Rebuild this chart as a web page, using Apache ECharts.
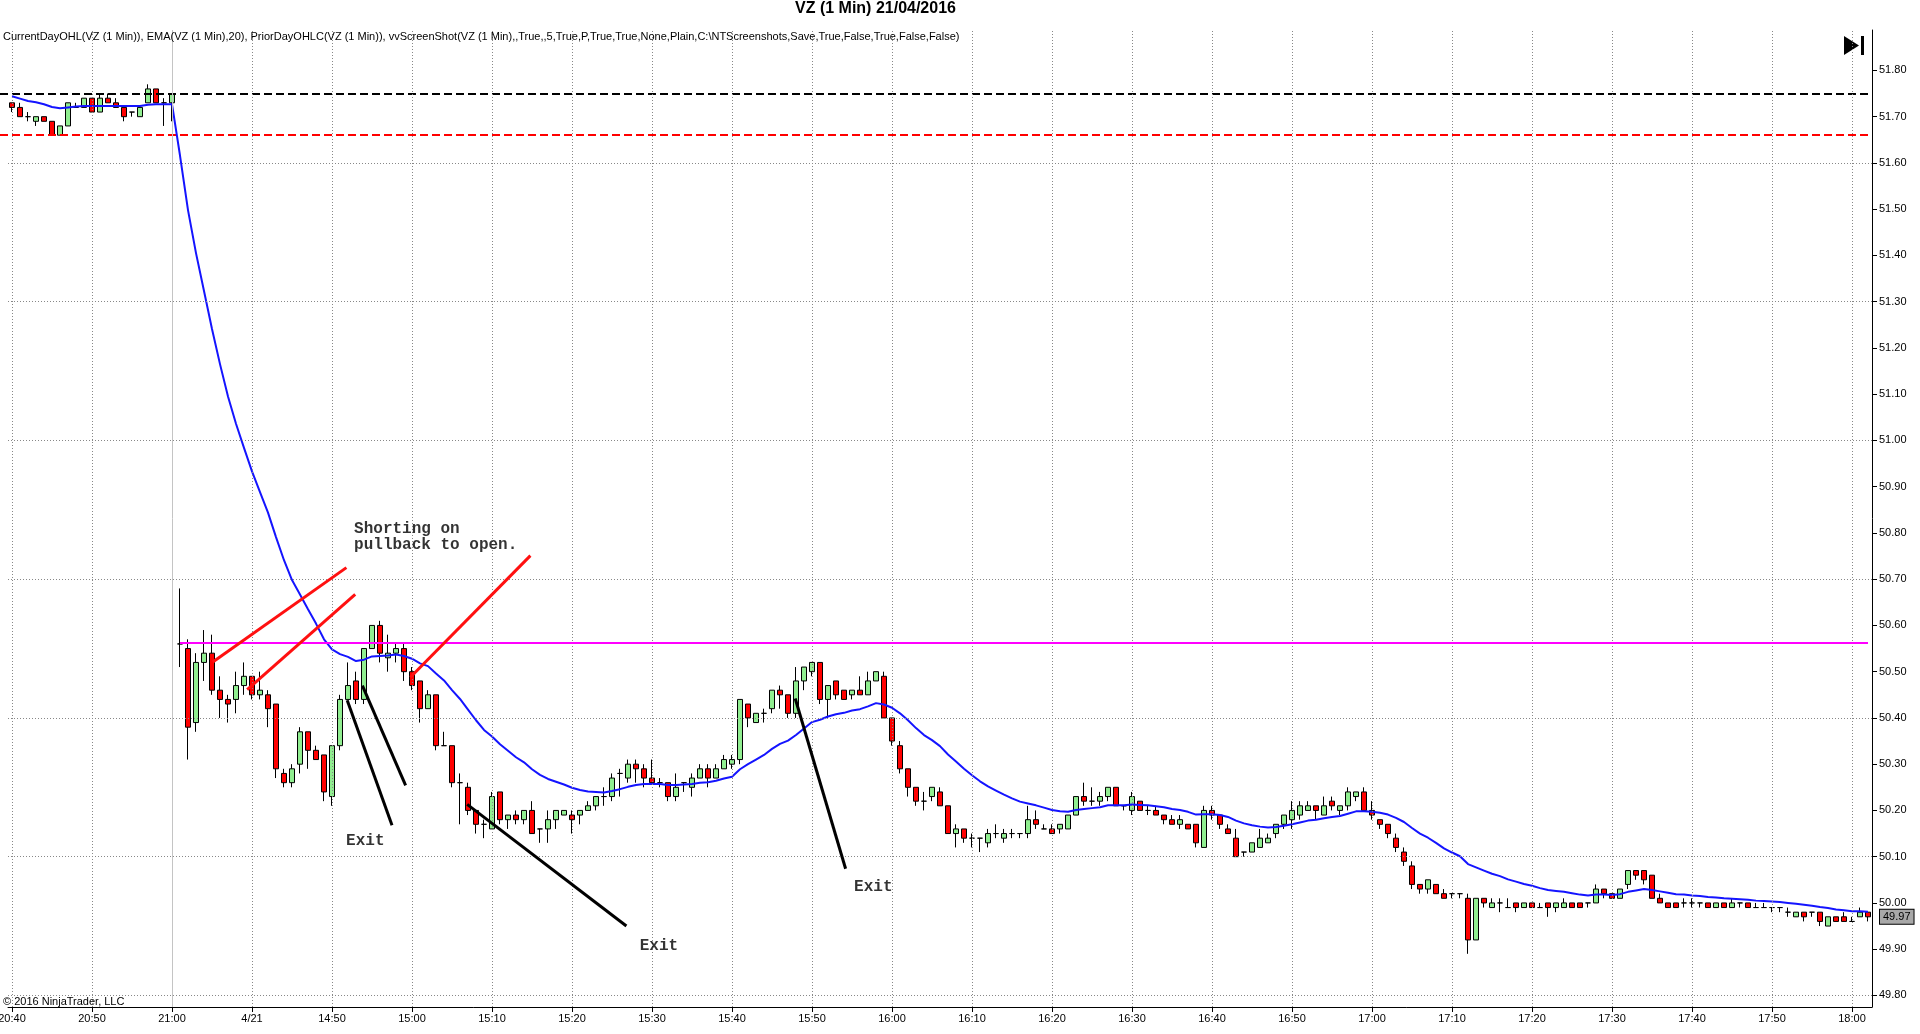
<!DOCTYPE html>
<html>
<head>
<meta charset="utf-8">
<title>VZ (1 Min) 21/04/2016</title>
<script src="https://cdn.jsdelivr.net/npm/echarts@6/dist/echarts.min.js"></script>
<style>
  html, body { margin: 0; padding: 0; background: #fff; }
  #chart { width: 1920px; height: 1034px; }
</style>
</head>
<body>
<div id="chart"></div>
<script>
// two sessions: tail of the prior day, then 21/04 from the open
const sessions = [['20:40', '21:00'], ['14:31', '18:02']];
const dateLabels = { '14:40': '4/21' };

const opens = [
  51.73, 51.72, 51.70, 51.69, 51.70, 51.69, 51.66, 51.68, 51.72, 51.72,
  51.74, 51.71, 51.74, 51.73, 51.72, 51.71, 51.70, 51.73, 51.76, 51.73,
  51.73, 50.56, 50.55, 50.39, 50.52, 50.54, 50.46, 50.44, 50.44, 50.47,
  50.49, 50.45, 50.45, 50.43, 50.28, 50.26, 50.30, 50.37, 50.33, 50.32,
  50.23, 50.34, 50.44, 50.48, 50.44, 50.55, 50.60, 50.53, 50.54, 50.55,
  50.50, 50.48, 50.42, 50.45, 50.34, 50.34, 50.26, 50.25, 50.20, 50.17,
  50.16, 50.24, 50.18, 50.19, 50.18, 50.20, 50.16, 50.16, 50.18, 50.19,
  50.19, 50.19, 50.20, 50.21, 50.23, 50.23, 50.28, 50.27, 50.30, 50.29,
  50.27, 50.26, 50.26, 50.23, 50.26, 50.25, 50.27, 50.29, 50.27, 50.29,
  50.30, 50.31, 50.43, 50.39, 50.41, 50.42, 50.46, 50.45, 50.41, 50.48,
  50.50, 50.52, 50.44, 50.48, 50.46, 50.45, 50.46, 50.45, 50.48, 50.49,
  50.40, 50.34, 50.29, 50.25, 50.22, 50.23, 50.24, 50.21, 50.15, 50.16,
  50.14, 50.14, 50.13, 50.15, 50.14, 50.15, 50.15, 50.15, 50.18, 50.16,
  50.16, 50.16, 50.16, 50.19, 50.23, 50.22, 50.22, 50.23, 50.25, 50.21,
  50.20, 50.22, 50.20, 50.20, 50.19, 50.18, 50.17, 50.17, 50.17, 50.12,
  50.20, 50.19, 50.16, 50.14, 50.11, 50.11, 50.12, 50.13, 50.15, 50.17,
  50.18, 50.19, 50.20, 50.21, 50.19, 50.22, 50.20, 50.21, 50.23, 50.24,
  50.20, 50.18, 50.17, 50.14, 50.11, 50.08, 50.04, 50.03, 50.04, 50.02,
  50.02, 50.02, 50.01, 49.92, 50.01, 49.99, 50.00, 49.99, 50.00, 49.99,
  50.00, 49.99, 50.00, 49.99, 49.99, 50.00, 50.00, 50.00, 50.00, 50.03,
  50.02, 50.01, 50.04, 50.07, 50.07, 50.06, 50.01, 50.00, 50.00, 50.00,
  50.00, 50.00, 50.00, 49.99, 50.00, 49.99, 50.00, 50.00, 49.99, 49.99,
  49.99, 49.99, 49.98, 49.97, 49.98, 49.98, 49.98, 49.95, 49.97, 49.97,
  49.96, 49.97, 49.98
];

const closes = [
  51.72, 51.70, 51.70, 51.70, 51.69, 51.66, 51.68, 51.73, 51.72, 51.74,
  51.71, 51.74, 51.73, 51.72, 51.70, 51.71, 51.72, 51.76, 51.73, 51.73,
  51.75, 50.56, 50.38, 50.52, 50.54, 50.46, 50.44, 50.43, 50.47, 50.49,
  50.45, 50.46, 50.42, 50.29, 50.26, 50.29, 50.37, 50.33, 50.31, 50.24,
  50.34, 50.44, 50.47, 50.44, 50.55, 50.60, 50.54, 50.54, 50.55, 50.50,
  50.47, 50.42, 50.45, 50.34, 50.34, 50.26, 50.26, 50.20, 50.17, 50.17,
  50.23, 50.18, 50.19, 50.18, 50.20, 50.15, 50.16, 50.18, 50.20, 50.20,
  50.18, 50.20, 50.21, 50.23, 50.23, 50.27, 50.28, 50.30, 50.29, 50.27,
  50.26, 50.26, 50.23, 50.25, 50.26, 50.27, 50.29, 50.27, 50.29, 50.31,
  50.31, 50.44, 50.40, 50.41, 50.41, 50.46, 50.45, 50.41, 50.48, 50.51,
  50.52, 50.44, 50.47, 50.45, 50.44, 50.46, 50.45, 50.48, 50.50, 50.40,
  50.35, 50.29, 50.25, 50.22, 50.22, 50.25, 50.21, 50.15, 50.16, 50.14,
  50.14, 50.14, 50.15, 50.15, 50.15, 50.15, 50.15, 50.18, 50.17, 50.16,
  50.15, 50.17, 50.19, 50.23, 50.22, 50.22, 50.23, 50.25, 50.21, 50.21,
  50.23, 50.20, 50.20, 50.19, 50.18, 50.17, 50.18, 50.16, 50.13, 50.20,
  50.19, 50.17, 50.15, 50.10, 50.11, 50.13, 50.14, 50.14, 50.17, 50.19,
  50.20, 50.21, 50.21, 50.20, 50.21, 50.21, 50.21, 50.24, 50.24, 50.20,
  50.19, 50.17, 50.15, 50.12, 50.09, 50.04, 50.03, 50.05, 50.02, 50.01,
  50.02, 50.02, 49.92, 50.01, 50.00, 50.00, 50.00, 49.99, 49.99, 50.00,
  49.99, 49.99, 49.99, 50.00, 50.00, 49.99, 49.99, 50.00, 50.03, 50.02,
  50.01, 50.03, 50.07, 50.06, 50.05, 50.01, 50.00, 49.99, 49.99, 50.00,
  50.00, 50.00, 49.99, 50.00, 49.99, 50.00, 50.00, 49.99, 49.99, 49.99,
  49.99, 49.99, 49.98, 49.98, 49.97, 49.98, 49.96, 49.97, 49.96, 49.96,
  49.96, 49.98, 49.97
];

const lows = [
  51.71, 51.70, 51.69, 51.68, 51.69, 51.66, 51.66, 51.68, 51.72, 51.72,
  51.71, 51.71, 51.73, 51.72, 51.69, 51.70, 51.70, 51.73, 51.73, 51.68,
  51.69, 50.51, 50.31, 50.37, 50.48, 50.45, 50.40, 50.39, 50.41, 50.45,
  50.44, 50.44, 50.38, 50.27, 50.25, 50.25, 50.28, 50.29, 50.31, 50.22,
  50.21, 50.33, 50.44, 50.43, 50.43, 50.55, 50.52, 50.50, 50.52, 50.48,
  50.46, 50.39, 50.42, 50.33, 50.34, 50.25, 50.17, 50.19, 50.15, 50.14,
  50.16, 50.17, 50.16, 50.17, 50.17, 50.15, 50.13, 50.13, 50.16, 50.19,
  50.15, 50.17, 50.20, 50.20, 50.21, 50.22, 50.23, 50.26, 50.26, 50.25,
  50.26, 50.25, 50.22, 50.22, 50.24, 50.23, 50.27, 50.25, 50.27, 50.29,
  50.29, 50.30, 50.38, 50.39, 50.39, 50.41, 50.42, 50.40, 50.40, 50.46,
  50.49, 50.43, 50.40, 50.44, 50.44, 50.44, 50.45, 50.45, 50.48, 50.40,
  50.34, 50.28, 50.23, 50.21, 50.20, 50.22, 50.21, 50.15, 50.12, 50.13,
  50.12, 50.11, 50.12, 50.14, 50.13, 50.14, 50.14, 50.14, 50.16, 50.16,
  50.15, 50.15, 50.16, 50.19, 50.21, 50.21, 50.21, 50.22, 50.21, 50.20,
  50.19, 50.20, 50.19, 50.19, 50.17, 50.17, 50.16, 50.16, 50.12, 50.12,
  50.18, 50.16, 50.15, 50.10, 50.10, 50.11, 50.12, 50.13, 50.14, 50.16,
  50.16, 50.18, 50.20, 50.18, 50.19, 50.20, 50.19, 50.20, 50.22, 50.20,
  50.18, 50.16, 50.14, 50.11, 50.08, 50.03, 50.02, 50.02, 50.02, 50.01,
  50.01, 50.01, 49.89, 49.92, 49.99, 49.99, 49.98, 49.99, 49.98, 49.99,
  49.99, 49.99, 49.97, 49.98, 49.99, 49.99, 49.99, 49.99, 50.00, 50.01,
  50.01, 50.01, 50.03, 50.05, 50.04, 50.01, 50.00, 49.99, 49.99, 49.99,
  49.99, 49.99, 49.99, 49.99, 49.99, 49.99, 49.99, 49.99, 49.99, 49.99,
  49.98, 49.98, 49.97, 49.97, 49.96, 49.97, 49.95, 49.95, 49.96, 49.96,
  49.96, 49.97, 49.96
];

const highs = [
  51.73, 51.73, 51.71, 51.70, 51.70, 51.69, 51.68, 51.73, 51.73, 51.74,
  51.74, 51.75, 51.75, 51.74, 51.72, 51.71, 51.72, 51.77, 51.76, 51.74,
  51.75, 50.68, 50.57, 50.54, 50.59, 50.58, 50.49, 50.45, 50.50, 50.52,
  50.49, 50.50, 50.46, 50.43, 50.29, 50.30, 50.38, 50.37, 50.34, 50.32,
  50.34, 50.45, 50.52, 50.50, 50.55, 50.60, 50.61, 50.58, 50.56, 50.56,
  50.51, 50.48, 50.46, 50.45, 50.37, 50.34, 50.28, 50.26, 50.20, 50.18,
  50.24, 50.24, 50.19, 50.20, 50.20, 50.22, 50.16, 50.20, 50.20, 50.20,
  50.20, 50.20, 50.22, 50.23, 50.25, 50.28, 50.29, 50.31, 50.31, 50.30,
  50.31, 50.27, 50.26, 50.28, 50.26, 50.28, 50.30, 50.30, 50.30, 50.32,
  50.32, 50.44, 50.43, 50.41, 50.42, 50.46, 50.47, 50.45, 50.51, 50.51,
  50.52, 50.52, 50.47, 50.48, 50.46, 50.46, 50.49, 50.50, 50.50, 50.50,
  50.40, 50.35, 50.29, 50.25, 50.24, 50.25, 50.25, 50.21, 50.17, 50.16,
  50.15, 50.14, 50.16, 50.17, 50.16, 50.16, 50.15, 50.21, 50.20, 50.17,
  50.17, 50.17, 50.19, 50.23, 50.26, 50.25, 50.24, 50.25, 50.25, 50.21,
  50.24, 50.22, 50.21, 50.21, 50.19, 50.19, 50.19, 50.17, 50.17, 50.21,
  50.21, 50.19, 50.17, 50.16, 50.11, 50.13, 50.16, 50.15, 50.17, 50.19,
  50.22, 50.22, 50.22, 50.21, 50.23, 50.23, 50.21, 50.25, 50.24, 50.25,
  50.22, 50.18, 50.17, 50.15, 50.12, 50.09, 50.04, 50.05, 50.04, 50.03,
  50.02, 50.02, 50.02, 50.01, 50.01, 50.01, 50.01, 50.01, 50.00, 50.00,
  50.00, 50.00, 50.00, 50.00, 50.01, 50.00, 50.00, 50.00, 50.04, 50.03,
  50.02, 50.03, 50.07, 50.07, 50.07, 50.06, 50.02, 50.00, 50.00, 50.01,
  50.01, 50.00, 50.00, 50.00, 50.00, 50.01, 50.00, 50.00, 50.00, 50.00,
  49.99, 49.99, 49.99, 49.98, 49.98, 49.98, 49.98, 49.97, 49.97, 49.98,
  49.97, 49.99, 49.98
];

// EMA(20) as plotted, one value per bar
const emaValues = [
  51.744, 51.739, 51.734, 51.731, 51.727, 51.721, 51.718, 51.720, 51.722, 51.723,
  51.723, 51.723, 51.723, 51.723, 51.723, 51.723, 51.723, 51.726, 51.727, 51.727,
  51.727, 51.616, 51.498, 51.405, 51.323, 51.241, 51.165, 51.095, 51.036, 50.984,
  50.933, 50.888, 50.844, 50.791, 50.741, 50.698, 50.667, 50.635, 50.604, 50.570,
  50.548, 50.538, 50.532, 50.523, 50.526, 50.533, 50.534, 50.535, 50.537, 50.534,
  50.528, 50.518, 50.512, 50.496, 50.481, 50.460, 50.441, 50.418, 50.395, 50.374,
  50.360, 50.343, 50.329, 50.315, 50.304, 50.289, 50.277, 50.268, 50.262, 50.256,
  50.249, 50.244, 50.241, 50.240, 50.239, 50.242, 50.246, 50.251, 50.255, 50.257,
  50.257, 50.257, 50.255, 50.255, 50.256, 50.257, 50.260, 50.261, 50.264, 50.269,
  50.273, 50.289, 50.300, 50.310, 50.320, 50.333, 50.344, 50.351, 50.363, 50.377,
  50.391, 50.396, 50.403, 50.408, 50.411, 50.416, 50.419, 50.425, 50.432, 50.429,
  50.422, 50.410, 50.395, 50.378, 50.363, 50.352, 50.339, 50.321, 50.306, 50.290,
  50.276, 50.263, 50.252, 50.243, 50.234, 50.226, 50.219, 50.215, 50.211, 50.206,
  50.201, 50.198, 50.197, 50.201, 50.203, 50.205, 50.207, 50.211, 50.211, 50.211,
  50.213, 50.212, 50.211, 50.209, 50.207, 50.203, 50.201, 50.197, 50.191, 50.192,
  50.192, 50.190, 50.186, 50.178, 50.172, 50.168, 50.165, 50.163, 50.164, 50.167,
  50.170, 50.174, 50.178, 50.180, 50.183, 50.186, 50.188, 50.193, 50.198, 50.198,
  50.197, 50.195, 50.191, 50.184, 50.175, 50.162, 50.150, 50.141, 50.130, 50.118,
  50.109, 50.101, 50.084, 50.077, 50.070, 50.063, 50.058, 50.051, 50.046, 50.041,
  50.037, 50.032, 50.028, 50.026, 50.024, 50.021, 50.018, 50.016, 50.018, 50.018,
  50.017, 50.019, 50.024, 50.027, 50.030, 50.028, 50.025, 50.022, 50.019, 50.018,
  50.016, 50.015, 50.013, 50.012, 50.010, 50.009, 50.008, 50.007, 50.005, 50.004,
  50.003, 50.002, 50.000, 49.998, 49.996, 49.994, 49.991, 49.989, 49.986, 49.984,
  49.982, 49.982, 49.981
];

const priorDayClose = 51.75;
const priorDayLow = 51.66;
const currentDayOpen = 50.562;
const gridLevels = [51.6, 51.3, 51.0, 50.7, 50.4, 50.1, 49.8];

// hand-drawn markup, in [bar index, price]
const entryStrokes = [
  [[25.1, 50.521], [41.8, 50.725]],
  [[29.4, 50.461], [42.9, 50.667]],
  [[49.8, 50.488], [64.8, 50.751]]
];
const exitStrokes = [
  [[41.9, 50.438], [47.5, 50.168]],
  [[43.8, 50.470], [49.2, 50.254]],
  [[56.9, 50.213], [76.8, 49.950]],
  [[97.9, 50.442], [104.2, 50.074]]
];
const notes = [
  ['Shorting on\npullback to open.', 42.7, 50.792],
  ['Exit', 41.7, 50.135],
  ['Exit', 105.2, 50.034],
  ['Exit', 78.4, 49.907]
];

const indicatorLine = 'CurrentDayOHL(VZ (1 Min)), EMA(VZ (1 Min),20), PriorDayOHLC(VZ (1 Min)), vvScreenShot(VZ (1 Min),,True,,5,True,P,True,True,None,Plain,C:\\NTScreenshots,Save,True,False,True,False,False)';

function minuteRange(start, end) {
  const toMin = t => { const [h, m] = t.split(':').map(Number); return h * 60 + m; };
  const out = [];
  for (let t = toMin(start); t <= toMin(end); t++) {
    out.push(String(Math.floor(t / 60)).padStart(2, '0') + ':' + String(t % 60).padStart(2, '0'));
  }
  return out;
}

const categories = sessions.flatMap(s => minuteRange(s[0], s[1]));
const everyTen = (i) => i % 10 === 0;
const FONT = '"Liberation Sans", Arial, sans-serif';
const MONO = '"Liberation Mono", "Courier New", monospace';
const dotted = { color: '#888888', width: 1, type: [1, 2] };

function gridMarkLines() {
  const vertical = categories.filter((c, i) => everyTen(i)).map(c => ({ xAxis: c, lineStyle: dotted }));
  const horizontal = gridLevels.map(v => ({ yAxis: v, lineStyle: dotted }));
  const sessionBreak = { xAxis: sessions[0][1], lineStyle: { color: '#c4c4c4', width: 1, type: 'solid' } };
  return [...vertical, ...horizontal, sessionBreak];
}

function strokeSeries(name, strokes, color) {
  return {
    name: name,
    type: 'lines',
    coordinateSystem: 'cartesian2d',
    xAxisIndex: 1,
    yAxisIndex: 0,
    polyline: false,
    clip: false,
    silent: true,
    z: 6,
    lineStyle: { color: color, width: 3, opacity: 1, curveness: 0 },
    data: strokes.map(s => ({ coords: s }))
  };
}

const chart = echarts.init(document.getElementById('chart'));
const lastClose = closes[closes.length - 1];

const option = {
  animation: false,
  backgroundColor: '#ffffff',
  textStyle: { fontFamily: FONT },
  title: [
    {
      text: 'VZ (1 Min) 21/04/2016',
      left: 795, top: 1, padding: 0,
      textStyle: { fontSize: 16, fontWeight: 'bold', color: '#000', fontFamily: FONT }
    },
    {
      text: indicatorLine,
      left: 3, top: 31, padding: 0,
      textStyle: { fontSize: 11, fontWeight: 'normal', color: '#000', fontFamily: FONT }
    },
    {
      text: '\u00a9 2016 NinjaTrader, LLC',
      left: 3, top: 996, padding: 0,
      textStyle: { fontSize: 11, fontWeight: 'normal', color: '#000', fontFamily: FONT }
    }
  ],
  graphic: [
    { type: 'polygon', shape: { points: [[1844, 36], [1844, 55], [1859, 45.5]] }, style: { fill: '#000' } },
    { type: 'rect', shape: { x: 1861, y: 36, width: 3, height: 19 }, style: { fill: '#000' } }
  ],
  grid: { left: 8, right: 48, top: 30, bottom: 27, containLabel: false, outerBoundsMode: 'none' },
  xAxis: [
    {
      type: 'category',
      data: categories,
      boundaryGap: true,
      axisLine: { show: true, onZero: false, lineStyle: { color: '#000', width: 1 } },
      axisTick: { show: true, interval: everyTen, alignWithLabel: true, length: 5, lineStyle: { color: '#000' } },
      axisLabel: {
        interval: everyTen,
        formatter: v => dateLabels[v] || v,
        color: '#000', fontSize: 11, margin: 6, fontFamily: FONT
      },
      splitLine: { show: false }
    },
    { type: 'value', min: -0.5, max: categories.length - 0.5, show: false }
  ],
  yAxis: {
    type: 'value',
    position: 'right',
    min: 49.775,
    max: 51.8874,
    splitNumber: 21,
    axisLine: { show: true, onZero: false, lineStyle: { color: '#000', width: 1 } },
    axisTick: { show: true, length: 5, lineStyle: { color: '#000' } },
    axisLabel: {
      formatter: v => v.toFixed(2), color: '#000', fontSize: 11, margin: 7,
      showMinLabel: false, showMaxLabel: false, fontFamily: FONT
    },
    splitLine: { show: false }
  },
  series: [
    {
      name: 'grid',
      type: 'line',
      data: [],
      z: 1,
      markLine: { silent: true, symbol: ['none', 'none'], label: { show: false }, data: gridMarkLines() }
    },
    {
      name: 'VZ',
      type: 'candlestick',
      z: 3,
      barWidth: 6,
      data: opens.map((o, i) => [o, closes[i], lows[i], highs[i]]),
      itemStyle: {
        color: '#90ee90', color0: '#ff0000',
        borderColor: '#000', borderColor0: '#000', borderColorDoji: '#000',
        borderWidth: 1
      },
      markLine: {
        silent: true,
        symbol: ['none', 'none'],
        label: { show: false },
        data: [
          [
            { coord: [sessions[1][0], currentDayOpen], lineStyle: { color: '#ff00ff', width: 2, type: 'solid' } },
            { coord: [sessions[1][1], currentDayOpen] }
          ],
          {
            yAxis: lastClose,
            lineStyle: { color: 'rgba(0,0,0,0)', width: 0 },
            label: {
              show: true, position: 'end', distance: 8,
              formatter: () => lastClose.toFixed(2),
              backgroundColor: '#a8a8a8', borderColor: '#000', borderWidth: 1,
              padding: [2, 3, 1, 3], color: '#000', fontSize: 11, fontFamily: FONT
            }
          }
        ]
      }
    },
    {
      name: 'EMA',
      type: 'line',
      data: emaValues,
      z: 4,
      symbol: 'none',
      smooth: false,
      lineStyle: { color: '#1414ff', width: 2 }
    },
    {
      name: 'PriorDay',
      type: 'lines',
      coordinateSystem: 'cartesian2d',
      xAxisIndex: 1,
      yAxisIndex: 0,
      clip: false,
      silent: true,
      z: 4,
      data: [
        { coords: [[-1.5, priorDayClose], [categories.length - 0.5, priorDayClose]], lineStyle: { color: '#000', width: 2, type: [8, 4], opacity: 1 } },
        { coords: [[-1.5, priorDayLow], [categories.length - 0.5, priorDayLow]], lineStyle: { color: '#ff0000', width: 2, type: [8, 4], opacity: 1 } }
      ]
    },
    strokeSeries('Entries', entryStrokes, '#ff1010'),
    strokeSeries('Exits', exitStrokes, '#000000'),
    {
      name: 'Notes',
      type: 'scatter',
      xAxisIndex: 1,
      yAxisIndex: 0,
      symbolSize: 1,
      silent: true,
      z: 7,
      itemStyle: { color: 'rgba(0,0,0,0)' },
      label: {
        show: true, position: 'right', distance: 0,
        formatter: p => p.name,
        fontFamily: MONO, fontWeight: 'bold', fontSize: 16, lineHeight: 16, color: '#000'
      },
      data: notes.map(n => ({ name: n[0], value: [n[1], n[2]] }))
    }
  ]
};

chart.setOption(option);
</script>
</body>
</html>
